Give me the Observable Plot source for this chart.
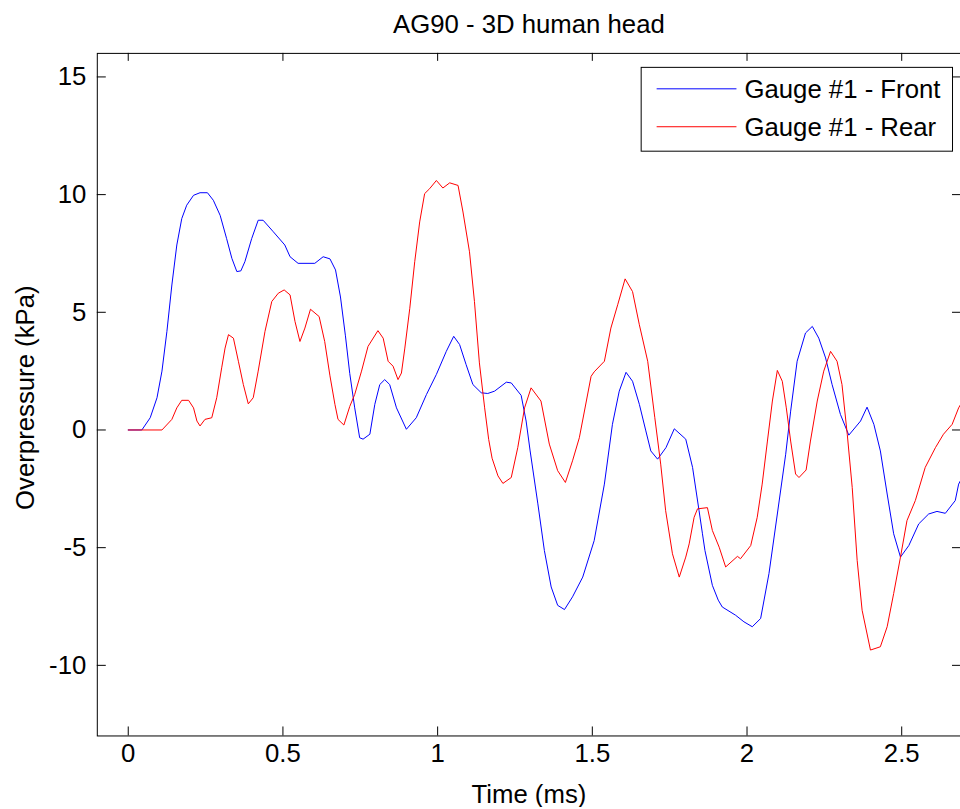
<!DOCTYPE html>
<html>
<head>
<meta charset="utf-8">
<script src="https://cdn.jsdelivr.net/npm/d3@7"></script>
<script src="https://cdn.jsdelivr.net/npm/@observablehq/plot@0.6"></script>
<style>
  html, body { margin: 0; padding: 0; background: #fff; overflow: hidden; }
  svg { display: block; }
</style>
</head>
<body>
<script>
// ---------- data ----------
const chartTitle = "AG90 - 3D human head";
const xLabel = "Time (ms)";
const yLabel = "Overpressure (kPa)";
const seriesNames = ["Gauge #1 - Front", "Gauge #1 - Rear"];
const xTicks = [0, 0.5, 1, 1.5, 2, 2.5];
const yTicks = [-10, -5, 0, 5, 10, 15];

const frontTime = [0, 0.044, 0.071, 0.093, 0.109, 0.125, 0.141, 0.157, 0.173, 0.189, 0.211, 0.232, 0.256, 0.275, 0.297, 0.318, 0.335, 0.351, 0.364, 0.377, 0.399, 0.420, 0.436, 0.469, 0.506, 0.523, 0.549, 0.603, 0.630, 0.652, 0.670, 0.686, 0.702, 0.716, 0.732, 0.748, 0.759, 0.781, 0.797, 0.813, 0.829, 0.845, 0.867, 0.899, 0.931, 0.964, 0.996, 1.028, 1.052, 1.071, 1.092, 1.114, 1.141, 1.162, 1.184, 1.222, 1.238, 1.270, 1.286, 1.299, 1.324, 1.345, 1.367, 1.388, 1.410, 1.436, 1.469, 1.506, 1.539, 1.565, 1.587, 1.609, 1.630, 1.652, 1.673, 1.689, 1.711, 1.738, 1.765, 1.802, 1.824, 1.845, 1.856, 1.864, 1.888, 1.907, 1.920, 1.963, 1.990, 2.017, 2.044, 2.071, 2.098, 2.125, 2.141, 2.162, 2.189, 2.211, 2.232, 2.254, 2.275, 2.302, 2.329, 2.367, 2.388, 2.410, 2.431, 2.453, 2.474, 2.496, 2.523, 2.555, 2.587, 2.614, 2.641, 2.673, 2.684, 2.700];
const frontValue = [0, 0, 0.52, 1.37, 2.50, 4.19, 6.16, 7.86, 8.98, 9.55, 9.97, 10.08, 10.08, 9.76, 9.12, 8.13, 7.29, 6.73, 6.76, 7.15, 8.13, 8.91, 8.91, 8.42, 7.86, 7.36, 7.08, 7.08, 7.36, 7.27, 6.8, 5.65, 4.0, 2.4, 0.94, -0.33, -0.39, -0.18, 1.09, 1.93, 2.14, 1.93, 0.94, 0.03, 0.52, 1.51, 2.36, 3.34, 3.98, 3.63, 2.78, 1.93, 1.58, 1.55, 1.65, 2.03, 2.00, 1.47, 0.38, -0.89, -3.14, -5.12, -6.67, -7.45, -7.63, -7.09, -6.25, -4.70, -2.30, 0.24, 1.65, 2.45, 2.07, 1.09, -0.04, -0.89, -1.24, -0.75, 0.05, -0.39, -1.59, -3.43, -4.41, -5.12, -6.60, -7.23, -7.52, -7.87, -8.15, -8.36, -8.01, -6.10, -3.57, -1.03, 0.80, 2.92, 4.12, 4.40, 3.90, 3.06, 1.93, 0.66, -0.22, 0.38, 0.97, 0.24, -0.89, -2.72, -4.41, -5.40, -4.91, -3.99, -3.57, -3.46, -3.54, -3.00, -2.30, -1.9];

const rearTime = [0, 0.109, 0.141, 0.157, 0.173, 0.195, 0.211, 0.222, 0.232, 0.248, 0.270, 0.286, 0.302, 0.313, 0.324, 0.340, 0.356, 0.372, 0.388, 0.404, 0.420, 0.442, 0.464, 0.485, 0.504, 0.523, 0.539, 0.555, 0.571, 0.589, 0.617, 0.635, 0.652, 0.668, 0.678, 0.697, 0.716, 0.732, 0.754, 0.775, 0.807, 0.824, 0.840, 0.856, 0.872, 0.883, 0.894, 0.910, 0.926, 0.942, 0.958, 0.974, 0.996, 1.017, 1.039, 1.066, 1.082, 1.103, 1.119, 1.135, 1.152, 1.165, 1.176, 1.195, 1.211, 1.238, 1.259, 1.281, 1.302, 1.334, 1.361, 1.388, 1.413, 1.436, 1.458, 1.496, 1.506, 1.539, 1.560, 1.582, 1.606, 1.630, 1.652, 1.679, 1.702, 1.721, 1.737, 1.759, 1.781, 1.802, 1.813, 1.829, 1.840, 1.872, 1.888, 1.910, 1.931, 1.969, 1.979, 2.012, 2.033, 2.049, 2.066, 2.082, 2.098, 2.114, 2.127, 2.141, 2.157, 2.168, 2.191, 2.205, 2.227, 2.248, 2.270, 2.291, 2.307, 2.324, 2.340, 2.356, 2.372, 2.399, 2.431, 2.453, 2.474, 2.496, 2.517, 2.544, 2.576, 2.609, 2.635, 2.663, 2.684, 2.700];
const rearValue = [0, 0, 0.45, 0.94, 1.26, 1.26, 0.94, 0.38, 0.17, 0.45, 0.52, 1.37, 2.64, 3.48, 4.05, 3.90, 2.92, 1.93, 1.11, 1.37, 2.50, 4.19, 5.46, 5.81, 5.95, 5.74, 4.61, 3.76, 4.33, 5.13, 4.82, 3.76, 2.3, 1.09, 0.45, 0.21, 1.0, 1.51, 2.50, 3.55, 4.22, 3.90, 2.92, 2.71, 2.14, 2.42, 3.48, 5.17, 7.15, 8.84, 10.04, 10.25, 10.60, 10.28, 10.50, 10.39, 9.26, 7.57, 5.46, 2.85, 0.94, -0.4, -1.2, -1.95, -2.27, -2.02, -0.75, 0.94, 1.79, 1.23, -0.60, -1.73, -2.23, -1.31, -0.33, 2.28, 2.47, 2.92, 4.33, 5.32, 6.42, 5.88, 4.47, 2.92, 0.52, -1.45, -3.43, -5.26, -6.25, -5.40, -4.84, -3.71, -3.35, -3.30, -4.27, -4.98, -5.82, -5.37, -5.47, -4.91, -3.71, -2.30, -0.47, 1.23, 2.53, 2.07, 0.94, -0.47, -1.87, -2.02, -1.70, -0.47, 1.23, 2.50, 3.34, 2.92, 1.93, -0.18, -2.44, -5.54, -7.66, -9.35, -9.21, -8.36, -6.95, -5.40, -3.85, -3.00, -1.59, -0.75, -0.18, 0.24, 0.94, 1.3];

// ---------- build tables ----------
function toRows(ts, vs, name) {
  const n = Math.min(ts.length, vs.length);
  return d3.range(n).map(i => ({t: ts[i], v: vs[i], series: name}));
}
const front = toRows(frontTime, frontValue, seriesNames[0]);
const rear = toRows(rearTime, rearValue, seriesNames[1]);

const colors = ["#0000ff", "#ff0000"];
const FONT = "'Liberation Sans', Arial, Helvetica, sans-serif";
const FS = 25.8;

const W = 962, H = 809, ML = 97, MR = 0, MT = 53, MB = 72;
const frameW = W - ML - MR, frameH = H - MT - MB;

const chart = Plot.plot({
  width: W, height: H,
  marginLeft: ML, marginRight: MR, marginTop: MT, marginBottom: MB,
  style: {fontFamily: FONT, fontSize: FS + "px", background: "#fff", color: "#000"},
  x: {domain: [-0.1, 2.69], ticks: xTicks, tickSize: 0, tickPadding: 8, tickFormat: d => String(d), label: null},
  y: {domain: [-13, 16], ticks: yTicks, tickSize: 0, tickPadding: 11, tickFormat: d => String(d), label: null},
  marks: [
    Plot.frame({stroke: "#000", strokeWidth: 1}),
    // inward ticks (MATLAB style) on all four sides
    Plot.ruleX(xTicks, {x: d => d, insetTop: frameH - 9, stroke: "#000"}),
    Plot.ruleX(xTicks, {x: d => d, insetBottom: frameH - 8, stroke: "#000"}),
    Plot.ruleY(yTicks, {y: d => d, insetRight: frameW - 9, stroke: "#000"}),
    Plot.ruleY(yTicks, {y: d => d, insetLeft: frameW - 8, stroke: "#000"}),
    Plot.line(front, {x: "t", y: "v", stroke: colors[0], strokeWidth: 1}),
    Plot.line(rear, {x: "t", y: "v", stroke: colors[1], strokeWidth: 1}),
    Plot.text([chartTitle], {text: d => d, frameAnchor: "top", dy: -29, lineAnchor: "middle", textAnchor: "middle", fontSize: FS, fill: "#000"}),
    Plot.text([xLabel], {text: d => d, frameAnchor: "bottom", dy: 59, lineAnchor: "middle", textAnchor: "middle", fontSize: FS, fill: "#000"}),
    Plot.text([yLabel], {text: d => d, frameAnchor: "left", dx: -72, dy: 3, rotate: -90, lineAnchor: "middle", textAnchor: "middle", fontSize: FS, fill: "#000"})
  ]
});

// ---------- legend (inside the axes, top-right) ----------
const svg = d3.select(chart);
const lg = svg.append("g").attr("class", "legend");
const box = {x: 642.5, y: 67.5, w: 312, h: 84};
lg.append("rect").attr("x", box.x).attr("y", box.y).attr("width", box.w).attr("height", box.h)
  .attr("fill", "#fff").attr("stroke", "#000").attr("stroke-width", 1);
seriesNames.forEach((name, i) => {
  const cy = 89 + i * 38;
  lg.append("line").attr("x1", 658).attr("x2", 738).attr("y1", cy).attr("y2", cy)
    .attr("stroke", colors[i]).attr("stroke-width", 1);
  lg.append("text").attr("x", 746).attr("y", cy + 9.5)
    .attr("text-anchor", "start")
    .attr("font-family", FONT).attr("font-size", FS).attr("fill", "#000").text(name);
});

document.body.append(chart);
</script>
</body>
</html>
